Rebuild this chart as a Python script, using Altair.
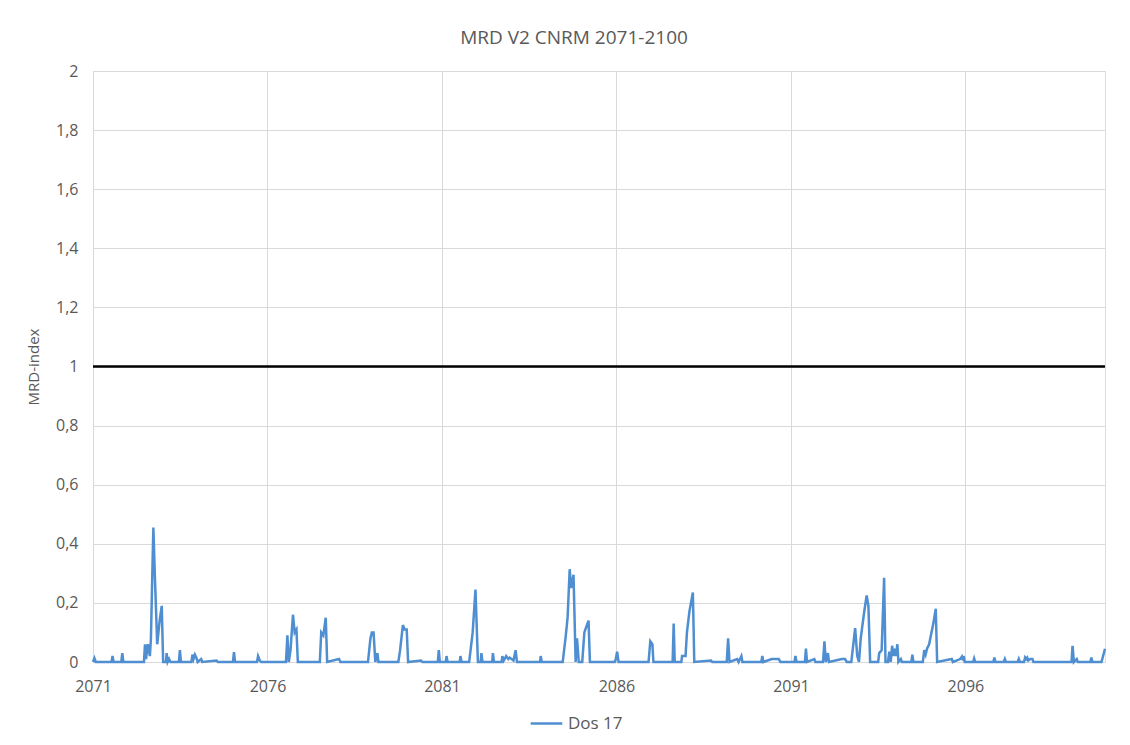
import altair as alt
import pandas as pd

# Time axis in fractional years, MRD-index values
time = [
    2071.00, 2071.04, 2071.08, 2071.53, 2071.56, 2071.59, 2071.81, 2071.84, 2071.87,
    2072.46, 2072.49, 2072.52, 2072.57, 2072.63, 2072.66, 2072.70, 2072.73, 2072.77,
    2072.84, 2072.91, 2072.97, 2073.01, 2073.09, 2073.11, 2073.14, 2073.18, 2073.22,
    2073.46, 2073.49, 2073.52, 2073.82, 2073.85, 2073.88, 2073.92, 2073.96, 2074.00,
    2074.10, 2074.13, 2074.54, 2074.58, 2075.01, 2075.04, 2075.07, 2075.70, 2075.73,
    2075.78, 2075.82, 2076.53, 2076.57, 2076.61, 2076.66, 2076.73, 2076.78, 2076.83,
    2076.87, 2077.50, 2077.54, 2077.60, 2077.67, 2077.71, 2078.05, 2078.09, 2078.88,
    2078.95, 2078.99, 2079.04, 2079.09, 2079.15, 2079.18, 2079.75, 2079.80, 2079.88,
    2079.93, 2079.99, 2080.03, 2080.40, 2080.44, 2080.88, 2080.91, 2080.94, 2081.11,
    2081.13, 2081.16, 2081.51, 2081.53, 2081.56, 2081.78, 2081.82, 2081.88, 2081.96,
    2082.03, 2082.11, 2082.13, 2082.16, 2082.44, 2082.46, 2082.49, 2082.71, 2082.73,
    2082.77, 2082.84, 2082.90, 2082.94, 2083.05, 2083.11, 2083.15, 2083.81, 2083.83,
    2083.86, 2084.46, 2084.54, 2084.60, 2084.66, 2084.70, 2084.77, 2084.83, 2084.87,
    2084.92, 2085.02, 2085.08, 2085.14, 2085.20, 2085.24, 2085.95, 2085.98, 2086.02,
    2086.06, 2086.92, 2086.97, 2087.03, 2087.06, 2087.61, 2087.64, 2087.67, 2087.86,
    2087.88, 2087.98, 2088.02, 2088.09, 2088.19, 2088.23, 2088.71, 2088.75, 2089.16,
    2089.20, 2089.24, 2089.46, 2089.50, 2089.58, 2089.61, 2090.15, 2090.18, 2090.21,
    2090.45, 2090.55, 2090.65, 2090.70, 2091.10, 2091.13, 2091.16, 2091.40, 2091.43,
    2091.46, 2091.67, 2091.70, 2091.92, 2091.96, 2092.00, 2092.06, 2092.09, 2092.46,
    2092.55, 2092.60, 2092.73, 2092.84, 2092.90, 2092.95, 2093.00, 2093.10, 2093.17,
    2093.22, 2093.27, 2093.50, 2093.53, 2093.60, 2093.67, 2093.71, 2093.78, 2093.82,
    2093.86, 2093.90, 2093.93, 2093.97, 2094.01, 2094.05, 2094.08, 2094.15, 2094.18,
    2094.45, 2094.48, 2094.51, 2094.78, 2094.82, 2094.86, 2094.90, 2094.96, 2095.01,
    2095.08, 2095.15, 2095.19, 2095.61, 2095.64, 2095.85, 2095.90, 2095.93, 2095.95,
    2095.98, 2096.22, 2096.25, 2096.28, 2096.80, 2096.83, 2096.86, 2097.10, 2097.13,
    2097.16, 2097.50, 2097.53, 2097.56, 2097.68, 2097.71, 2097.74, 2097.77, 2097.80,
    2097.86, 2097.92, 2097.95, 2099.04, 2099.07, 2099.11, 2099.19, 2099.22, 2099.58,
    2099.61, 2099.64, 2099.90, 2100.00,
]
mrd = [
    0.0, 0.013, 0.0, 0.0, 0.02, 0.0, 0.0, 0.03, 0.0,
    0.0, 0.06, 0.01, 0.06, 0.02, 0.08, 0.30, 0.455, 0.30,
    0.06, 0.14, 0.19, 0.0, 0.0, 0.03, 0.0, 0.01, 0.0,
    0.0, 0.04, 0.0, 0.0, 0.025, 0.01, 0.025, 0.015, 0.0,
    0.01, 0.0, 0.005, 0.0, 0.0, 0.033, 0.0, 0.0, 0.02,
    0.005, 0.0, 0.0, 0.09, 0.0, 0.04, 0.16, 0.10, 0.11,
    0.0, 0.0, 0.10, 0.09, 0.15, 0.0, 0.01, 0.0, 0.0,
    0.08, 0.10, 0.10, 0.0, 0.03, 0.0, 0.0, 0.04, 0.125,
    0.11, 0.11, 0.0, 0.005, 0.0, 0.0, 0.04, 0.0, 0.0,
    0.02, 0.0, 0.0, 0.02, 0.0, 0.0, 0.04, 0.10, 0.245,
    0.0, 0.0, 0.03, 0.0, 0.0, 0.03, 0.0, 0.0, 0.02,
    0.005, 0.02, 0.01, 0.015, 0.005, 0.04, 0.0, 0.0, 0.02,
    0.0, 0.0, 0.08, 0.15, 0.314, 0.25, 0.295, 0.0, 0.08,
    0.0, 0.0, 0.10, 0.12, 0.14, 0.0, 0.0, 0.01, 0.035,
    0.0, 0.0, 0.07, 0.06, 0.0, 0.0, 0.13, 0.0, 0.0,
    0.02, 0.02, 0.10, 0.17, 0.235, 0.0, 0.005, 0.0, 0.0,
    0.08, 0.0, 0.01, 0.0, 0.02, 0.0, 0.0, 0.02, 0.0,
    0.01, 0.01, 0.01, 0.0, 0.0, 0.02, 0.0, 0.0, 0.045,
    0.0, 0.01, 0.0, 0.0, 0.07, 0.0, 0.03, 0.0, 0.01,
    0.01, 0.0, 0.0, 0.115, 0.02, 0.0, 0.08, 0.17, 0.225,
    0.19, 0.0, 0.0, 0.03, 0.04, 0.285, 0.0, 0.0, 0.035,
    0.0, 0.055, 0.02, 0.045, 0.02, 0.06, 0.0, 0.01, 0.0,
    0.0, 0.025, 0.0, 0.0, 0.04, 0.025, 0.045, 0.06, 0.09,
    0.13, 0.18, 0.0, 0.01, 0.0, 0.01, 0.018, 0.005, 0.02,
    0.0, 0.0, 0.012, 0.0, 0.0, 0.015, 0.0, 0.0, 0.01,
    0.0, 0.0, 0.01, 0.0, 0.0, 0.015, 0.01, 0.015, 0.005,
    0.01, 0.01, 0.0, 0.0, 0.055, 0.0, 0.01, 0.0, 0.0,
    0.015, 0.0, 0.0, 0.045,
]
series_name = "Dos 17"
threshold_value = [1.0]
x_ticks = [2071, 2076, 2081, 2086, 2091, 2096]
y_ticks = [0, 0.2, 0.4, 0.6, 0.8, 1.0, 1.2, 1.4, 1.6, 1.8, 2.0]

df = pd.DataFrame({"time": time, "mrd": mrd, "series": series_name})
thr = pd.DataFrame({"thr": threshold_value})

FONT = "Open Sans"
TXT = "#595959"
GRID = "#D9D9D9"

x_enc = alt.X(
    "time:Q",
    scale=alt.Scale(domain=[2071, 2100], nice=False, zero=False),
    axis=alt.Axis(values=x_ticks, format="d", title=None, grid=True,
                  gridColor=GRID, ticks=False, domainColor=GRID,
                  labelFlush=False, labelOverlap=False,
                  labelPadding=16, labelFontSize=16, labelColor=TXT,
                  labelFont=FONT),
)
y_enc = alt.Y(
    "mrd:Q",
    scale=alt.Scale(domain=[0, 2], nice=False),
    axis=alt.Axis(values=y_ticks, title="MRD-index", grid=True,
                  gridColor=GRID, ticks=False, domain=False,
                  labelFlush=False, labelOverlap=False,
                  labelExpr="replace(format(datum.value, '~g'), '.', ',')",
                  labelPadding=15, labelFontSize=16, labelColor=TXT,
                  labelFont=FONT, titleFont=FONT, titleFontSize=15,
                  titleColor=TXT, titleFontWeight="normal", titlePadding=14),
)

line = alt.Chart(df).mark_line(strokeWidth=2.5, interpolate="linear").encode(
    x=x_enc,
    y=y_enc,
    color=alt.Color(
        "series:N",
        scale=alt.Scale(domain=[series_name], range=["#4F8ED0"]),
        legend=alt.Legend(title=None, orient="none", legendX=436, legendY=635,
                          symbolType="stroke", symbolSize=1000,
                          symbolStrokeWidth=2.5, labelFontSize=17,
                          labelColor=TXT, labelFont=FONT, direction="horizontal"),
    ),
)

rule = alt.Chart(thr).mark_rule(color="black", strokeWidth=2.5).encode(
    y=alt.Y("thr:Q", scale=alt.Scale(domain=[0, 2], nice=False))
)

chart = alt.layer(line, rule).properties(
    width=1012,
    height=591,
    autosize=alt.AutoSizeParams(type="none"),
    padding={"left": 85, "top": 63, "right": 10, "bottom": 74},
    title=alt.TitleParams("MRD V2 CNRM 2071-2100", fontSize=19, font=FONT,
                          color=TXT, fontWeight="normal", anchor="middle",
                          dx=-25, offset=15),
).configure_view(stroke=None).configure(background="white")

chart.save("out.html", embed_options={"renderer": "svg", "actions": False})
